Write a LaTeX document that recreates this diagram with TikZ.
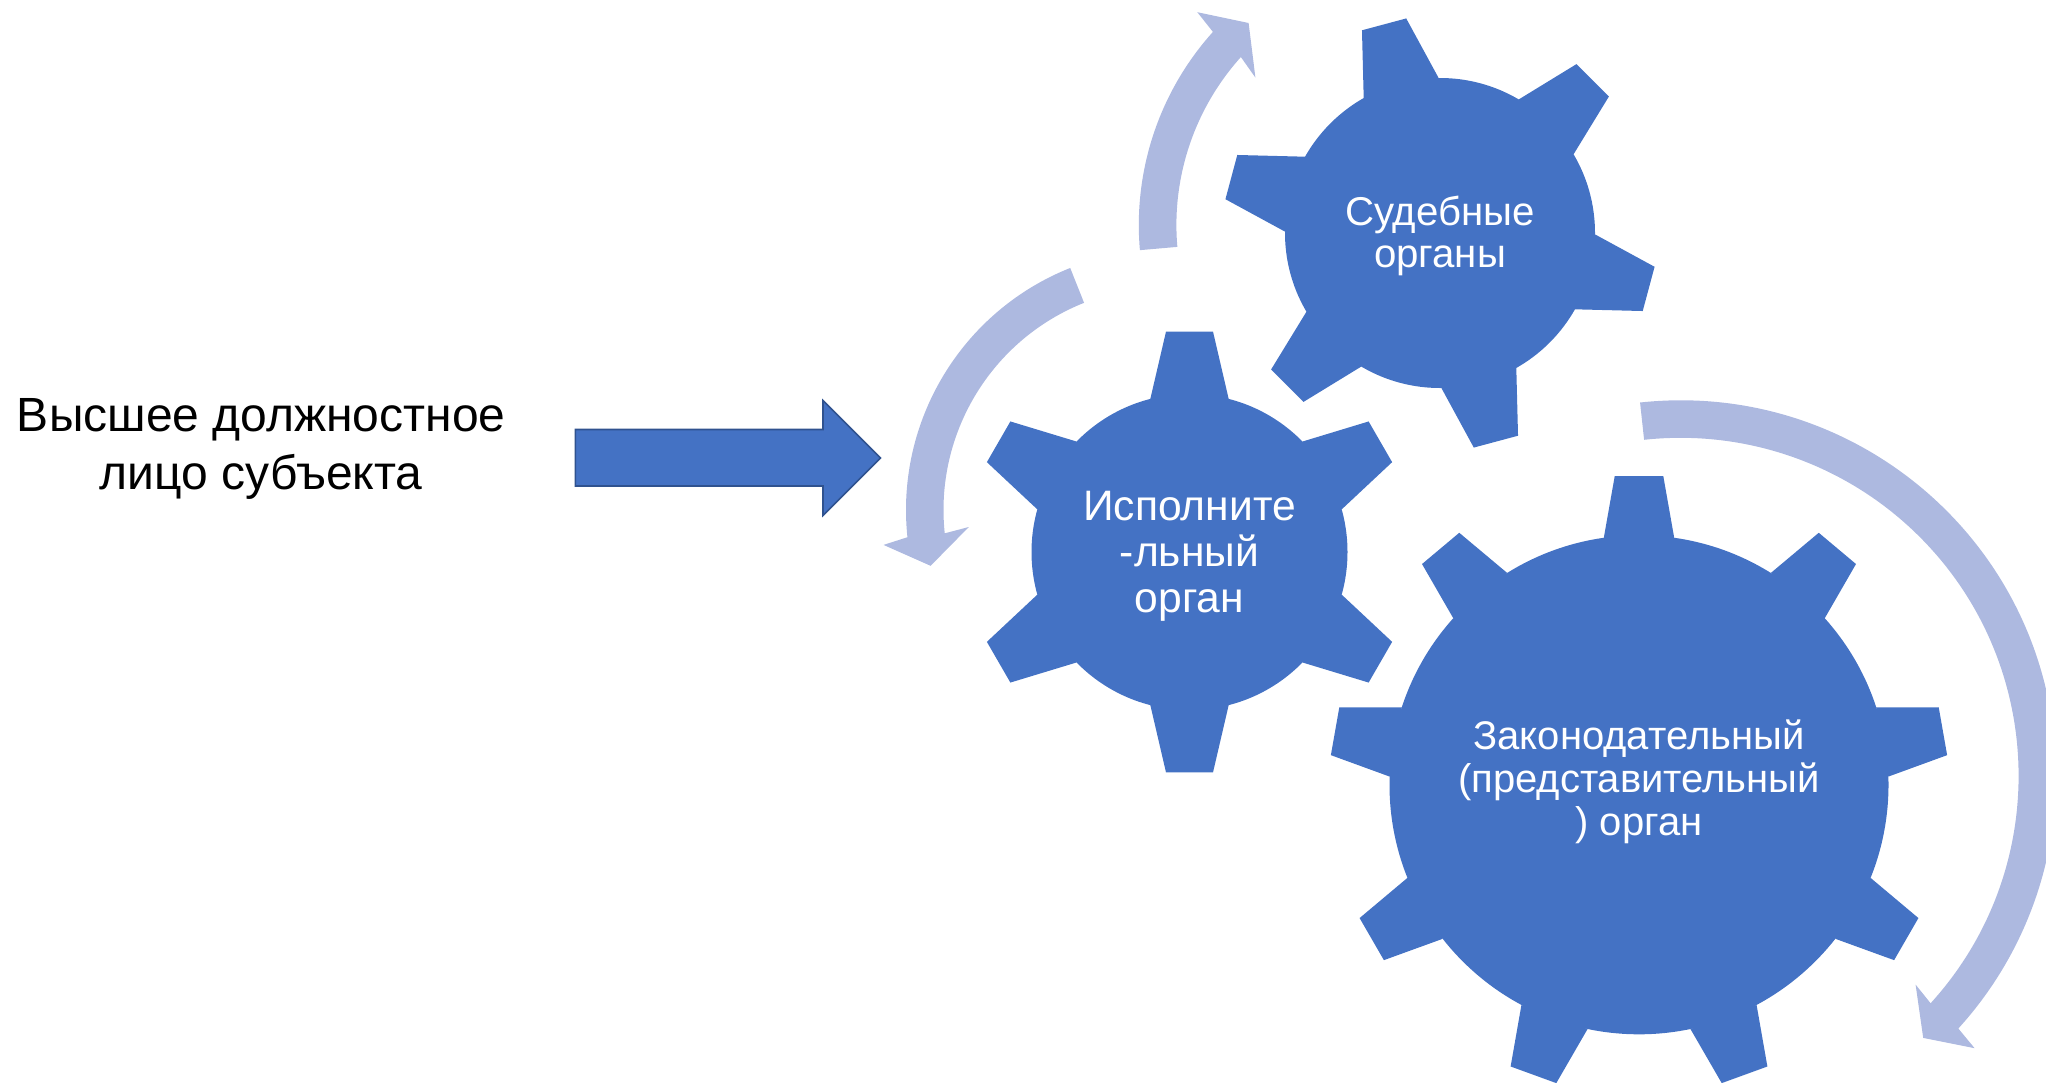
\documentclass[tikz,border=0pt]{standalone}
\usepackage{fontspec}
\setmainfont{Liberation Sans}
\usepackage{tikz}
\usetikzlibrary{positioning}
\usetikzlibrary{calc}
\definecolor{gearblue}{HTML}{4472C4}
\definecolor{gearedge}{HTML}{2F528F}
\definecolor{swirlblue}{HTML}{ADB9E0}
\tikzstyle{gearpart}=[fill=gearblue]
\tikzstyle{swirl}=[fill=swirlblue]
\tikzstyle{blockarrow}=[fill=gearblue,draw=gearedge,line width=0.8pt,line join=miter]
\tikzstyle{geartext}=[text=white,align=center,inner sep=0pt]
\tikzstyle{lefttext}=[text=black,align=center,inner sep=0pt]

\begin{document}
\begin{tikzpicture}[x=0.5pt,y=-0.5pt]

    \useasboundingbox (0,0) rectangle (2046,1082);
    \clip (0,0) rectangle (2046,1082);

    % swirls: centre, outer and inner radius, angles, barb, tip, barb
    \foreach \cx/\cy/\ro/\ri/\sa/\ea/\ax/\ay/\tx/\ty/\bx/\by in {
        1680.6/775.8/375.5/338/-96.2/42.3/1974.6/1048.2/1923.2/1037.9/1915.6/984.6,
        1166.5/510/260.5/223/248.3/174/883.5/544.9/930.6/565.8/968.8/527,
        1427.4/225/288.6/251/175/222/1197.3/12.2/1248.6/23/1255.4/77.6 }
        \fill[swirl] (\cx,\cy) ++(\sa:\ro) arc[start angle=\sa, end angle=\ea, radius=\ro]
            -- (\ax,\ay) -- (\tx,\ty) -- (\bx,\by)
            -- ($(\cx,\cy)+(\ea:\ri)$) arc[start angle=\ea, end angle=\sa, radius=\ri] -- cycle;

    % gears: centre, radius, teeth, first angle, tooth sizes
    \foreach \cx/\cy/\rad/\num/\first/\tipw/\tipr/\basew/\baser in {
        1639/784.8/249.5/9/0/24.3/308.6/35.2/247,
        1189.5/552/158/6/0/23.5/220.4/39.2/153,
        1440/233/155/6/15/22.9/216/38.8/150 } {
        \fill[gearpart] (\cx,\cy) circle (\rad);
        \foreach \k in {1,...,\num}
            \fill[gearpart, shift={(\cx,\cy)}, rotate=\first+\k*360/\num]
                (-\tipw,-\tipr) -- (\tipw,-\tipr) -- (\basew,-\baser) -- (-\basew,-\baser) -- cycle;
    }

    \node[geartext, font=\fontsize{20.1}{21.3}\selectfont] (sud) at (1440,236) {Судебные\\органы};
    \node[geartext, font=\fontsize{21.3}{23}\selectfont] (isp) at (1189.5,556) {Исполните\\-льный\\орган};
    \node[geartext, font=\fontsize{20}{21.6}\selectfont] (zak) at (1639,782) {Законодательный\\(представительный\\) орган};

    \node[lefttext, font=\fontsize{24}{28.6}\selectfont] (lico) at (261.3,449) {Высшее должностное\\лицо субъекта};

    \path[blockarrow] (575.3,429.5) -- (823,429.5) -- (823,400.5) -- (880.5,458)
        -- (823,515.5) -- (823,486) -- (575.3,486) -- cycle;

\end{tikzpicture}
\end{document}
